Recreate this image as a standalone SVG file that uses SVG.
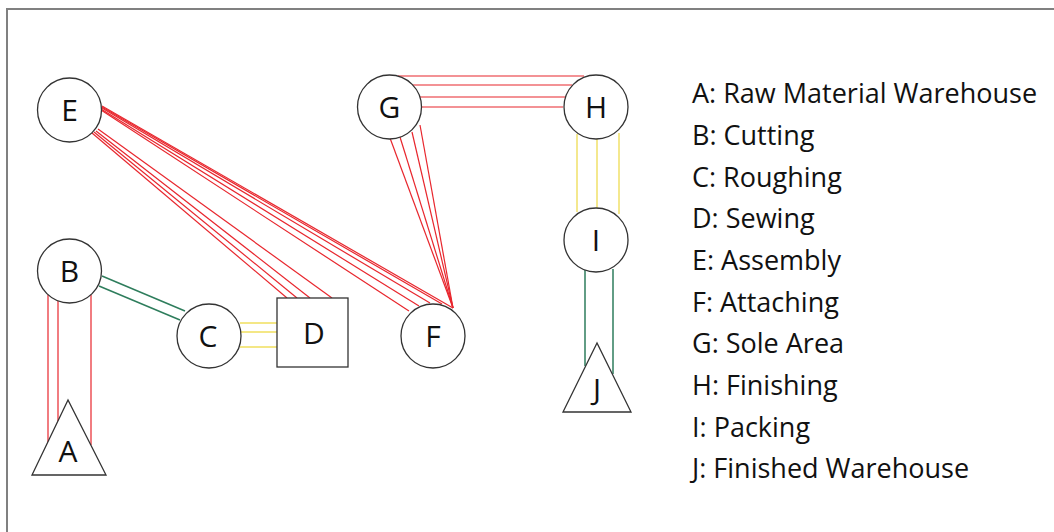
<svg xmlns="http://www.w3.org/2000/svg" width="1054" height="532" viewBox="0 0 1054 532">
<style>
.node{fill:#fff;stroke:#333;stroke-width:1.3}
.lbl{font-family:"Open Sans","Liberation Sans",sans-serif;font-size:30px;fill:#111;text-anchor:middle}
.leg{font-family:"Open Sans","Liberation Sans",sans-serif;font-size:27px;fill:#111}
.r{stroke:#e8262d;stroke-width:1.2;fill:none}
.y{stroke:#f0df5e;stroke-width:1.4;fill:none}
.g{stroke:#2e7d5c;stroke-width:1.5;fill:none}
</style>
<rect x="0" y="0" width="1054" height="532" fill="#fff"/>
<rect x="7" y="9" width="1050" height="530" fill="none" stroke="#808080" stroke-width="2"/>
<g id="connectors">
<line class="r" x1="48" y1="295" x2="48" y2="442"/>
<line class="r" x1="58" y1="301" x2="58" y2="421"/>
<line class="r" x1="91" y1="295" x2="91" y2="445"/>
<line class="g" x1="102" y1="276" x2="185" y2="311"/>
<line class="g" x1="99" y1="286" x2="180" y2="320"/>
<line class="y" x1="240" y1="323" x2="277" y2="323"/>
<line class="y" x1="241" y1="332" x2="277" y2="332"/>
<line class="y" x1="240" y1="347" x2="277" y2="347"/>
<line class="r" x1="92" y1="133" x2="287" y2="298"/>
<line class="r" x1="94" y1="132" x2="297" y2="298"/>
<line class="r" x1="96" y1="131" x2="310" y2="298"/>
<line class="r" x1="98" y1="129" x2="332" y2="298"/>
<line class="r" x1="101" y1="110" x2="409" y2="311"/>
<line class="r" x1="101" y1="109" x2="419" y2="306"/>
<line class="r" x1="102" y1="108" x2="430" y2="303"/>
<line class="r" x1="102" y1="107" x2="442" y2="304"/>
<line class="r" x1="102" y1="106" x2="453" y2="308"/>
<line class="r" x1="390" y1="138" x2="453" y2="308"/>
<line class="r" x1="400" y1="137" x2="453" y2="308"/>
<line class="r" x1="412" y1="132" x2="453" y2="308"/>
<line class="r" x1="420" y1="125" x2="453" y2="308"/>
<line class="r" x1="398" y1="76" x2="584" y2="76"/>
<line class="r" x1="412" y1="85" x2="572" y2="85"/>
<line class="r" x1="420" y1="97" x2="565" y2="97"/>
<line class="r" x1="422" y1="107" x2="563" y2="107"/>
<line class="y" x1="577" y1="134" x2="577" y2="212"/>
<line class="y" x1="597" y1="139" x2="597" y2="208"/>
<line class="y" x1="619" y1="133" x2="619" y2="214"/>
<line class="g" x1="585" y1="270" x2="585" y2="366"/>
<line class="g" x1="613" y1="269" x2="613" y2="374"/>
</g>
<g id="node-A"><polygon class="node" points="68,400 32,475 106,475"/><text class="lbl" x="68" y="462">A</text></g>
<g id="node-B"><circle class="node" cx="69.5" cy="271" r="32"/><text class="lbl" x="69.5" y="282">B</text></g>
<g id="node-C"><circle class="node" cx="209" cy="336" r="32"/><text class="lbl" x="208" y="347">C</text></g>
<g id="node-D"><rect class="node" x="277" y="298" width="71" height="69"/><text class="lbl" x="314" y="344">D</text></g>
<g id="node-E"><circle class="node" cx="69.5" cy="110" r="32"/><text class="lbl" x="69.5" y="121">E</text></g>
<g id="node-F"><circle class="node" cx="433" cy="336" r="32"/><text class="lbl" x="433" y="347">F</text></g>
<g id="node-G"><circle class="node" cx="389.5" cy="107" r="32"/><text class="lbl" x="389.5" y="118">G</text></g>
<g id="node-H"><circle class="node" cx="596" cy="107" r="32"/><text class="lbl" x="596" y="118">H</text></g>
<g id="node-I"><circle class="node" cx="596" cy="240" r="32"/><text class="lbl" x="596" y="251">I</text></g>
<g id="node-J"><polygon class="node" points="597,343 563,412 631,412"/><text class="lbl" x="597" y="400">J</text></g>
<g id="legend">
<text class="leg" x="692" y="103">A: Raw Material Warehouse</text>
<text class="leg" x="692" y="145">B: Cutting</text>
<text class="leg" x="692" y="187">C: Roughing</text>
<text class="leg" x="692" y="228">D: Sewing</text>
<text class="leg" x="692" y="270">E: Assembly</text>
<text class="leg" x="692" y="312">F: Attaching</text>
<text class="leg" x="692" y="353">G: Sole Area</text>
<text class="leg" x="692" y="395">H: Finishing</text>
<text class="leg" x="692" y="437">I: Packing</text>
<text class="leg" x="692" y="478">J: Finished Warehouse</text>
</g>
</svg>
